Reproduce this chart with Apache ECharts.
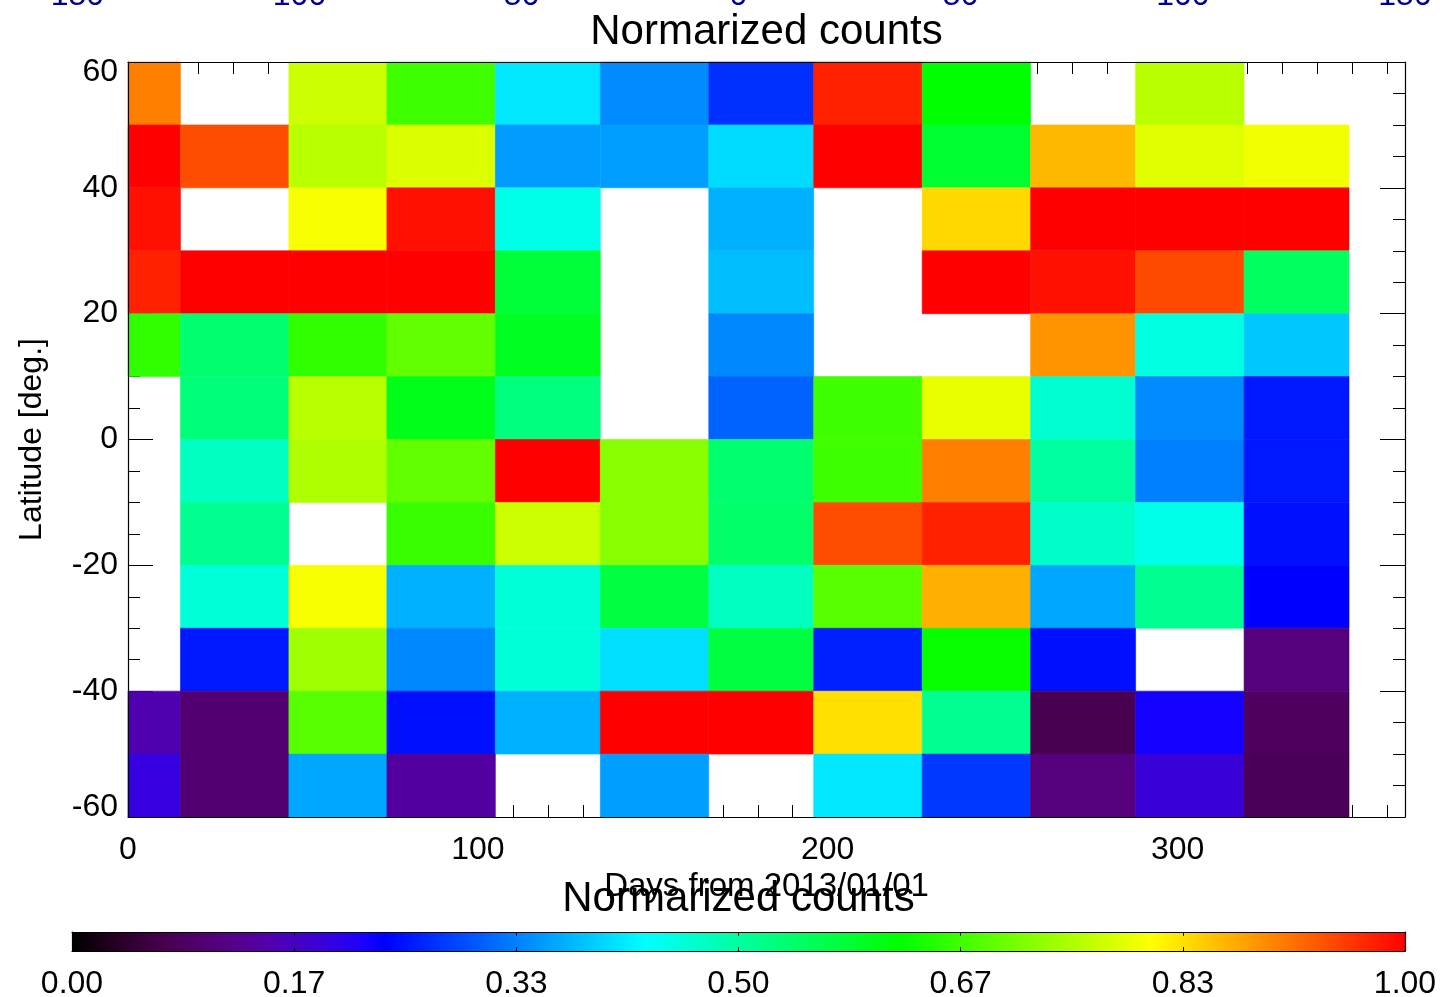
<!DOCTYPE html>
<html>
<head>
<meta charset="utf-8">
<script src="https://cdn.jsdelivr.net/npm/echarts@6/dist/echarts.min.js"></script>
<style>
html,body{margin:0;padding:0;background:#fff;}
#chart{width:1440px;height:997px;}
</style>
</head>
<body>
<div id="chart"></div>
<script>
// ---- data ----
// bin edges in days from 2013/01/01 (mid-month boundaries)
const dayEdges = [0, 15, 46, 74, 105, 135, 166, 196, 227, 258, 288, 319, 349];
// latitude band edges, top to bottom
const latEdges = [60, 50, 40, 30, 20, 10, 0, -10, -20, -30, -40, -50, -60];
// normalized counts per latitude band (null = no data)
const band_60_50  = [0.905, null, 0.772, 0.668, 0.412, 0.342, 0.272, 0.976, 0.620, null, 0.757, null];
const band_50_40  = [1.000, 0.943, 0.757, 0.784, 0.354, 0.357, 0.403, 1.000, 0.584, 0.863, 0.787, 0.799];
const band_40_30  = [0.988, null, 0.805, 0.988, 0.447, null, 0.370, null, 0.839, 1.000, 1.000, 1.000];
const band_30_20  = [0.976, 1.000, 1.000, 1.000, 0.578, null, 0.379, null, 1.000, 0.988, 0.946, 0.549];
const band_20_10  = [0.656, 0.537, 0.656, 0.692, 0.596, null, 0.339, null, null, 0.890, 0.453, 0.388];
const band_10_0   = [null, 0.531, 0.757, 0.602, 0.525, null, 0.311, 0.668, 0.793, 0.465, 0.342, 0.253];
const band_0_m10  = [null, 0.477, 0.751, 0.692, 1.000, 0.721, 0.537, 0.668, 0.905, 0.501, 0.333, 0.253];
const band_m10_m20 = [null, 0.513, null, 0.662, 0.772, 0.721, 0.542, 0.943, 0.976, 0.471, 0.447, 0.247];
const band_m20_m30 = [null, 0.459, 0.805, 0.370, 0.459, 0.572, 0.477, 0.686, 0.869, 0.363, 0.513, 0.235];
const band_m30_m40 = [null, 0.253, 0.739, 0.339, 0.459, 0.406, 0.572, 0.259, 0.626, 0.247, null, 0.109];
const band_m40_m50 = [0.152, 0.099, 0.686, 0.247, 0.370, 1.000, 1.000, 0.833, 0.513, 0.070, 0.223, 0.084];
const band_m50_m60 = [0.193, 0.099, 0.363, 0.139, null, 0.357, null, 0.412, 0.278, 0.109, 0.186, 0.077];
const bands = [band_60_50, band_50_40, band_40_30, band_30_20, band_20_10, band_10_0,
               band_0_m10, band_m10_m20, band_m20_m30, band_m30_m40, band_m40_m50, band_m50_m60];
// colorbar tick labels and the (clipped) upper axis labels
const cbTickLabels = ['0.00', '0.17', '0.33', '0.50', '0.67', '0.83', '1.00'];
const topTickLabels = ['-150', '-100', '-50', '0', '50', '100', '150'];

// ---- colormap (IDL rainbow-like) ----
const cmapStops = [[0,'#000000'],[0.035,'#280026'],[0.07,'#480050'],[0.12,'#580088'],[0.153,'#4f00b1'],
  [0.192,'#3700df'],[0.22,'#1900ff'],[0.235,'#0000ff'],[0.43,'#00ffff'],[0.62,'#00ff00'],[0.81,'#ffff00'],[1,'#ff0000']];
function hex2rgb(h){return [parseInt(h.substr(1,2),16),parseInt(h.substr(3,2),16),parseInt(h.substr(5,2),16)];}
function cmapAt(t){
  for (let i=1;i<cmapStops.length;i++){
    if (t<=cmapStops[i][0]){
      const [o0,c0]=cmapStops[i-1],[o1,c1]=cmapStops[i];
      const f=(t-o0)/(o1-o0), a=hex2rgb(c0), b=hex2rgb(c1);
      return 'rgb('+a.map((v,k)=>Math.round(v+(b[k]-v)*f)).join(',')+')';
    }
  }
  return cmapStops[cmapStops.length-1][1];
}
const cmapColors = [];
for (let i=0;i<=200;i++) cmapColors.push(cmapAt(i/200));

// ---- cells built from the arrays ----
const cells = [];
bands.forEach((row, r) => {
  row.forEach((v, c) => {
    if (v !== null) cells.push([dayEdges[c], dayEdges[c+1], latEdges[r+1], latEdges[r], v]);
  });
});

const FONT = '"Liberation Sans", Arial, Helvetica, sans-serif';
const chart = echarts.init(document.getElementById('chart'));

const noLine = {show:false, onZero:false};
function xTickAxis(pos, interval, len, labels){
  return {gridIndex:0, type:'value', position:pos, min:0, max:365, interval:interval,
    axisLine:noLine, splitLine:{show:false},
    axisTick:{show:true, inside:true, length:len, lineStyle:{color:'#000', width:1}},
    axisLabel:{show:labels, fontSize:32, color:'#000', fontFamily:FONT, margin:17, showMaxLabel:false, showMinLabel:true}};
}
function yTickAxis(pos, labels){
  return {gridIndex:0, type:'value', position:pos, min:-60, max:60, interval:20,
    axisLine:noLine, splitLine:{show:false},
    axisTick:{show:true, inside:true, length:25, lineStyle:{color:'#000', width:1}},
    minorTick:{show:true, splitNumber:4, length:12, lineStyle:{color:'#000', width:1}},
    axisLabel:{show:labels, fontSize:32, lineHeight:20, color:'#000', fontFamily:FONT, margin:10,
      verticalAlignMaxLabel:'top', verticalAlignMinLabel:'bottom'}};
}
const frameLine = {show:true, onZero:false, lineStyle:{color:'#000', width:1.2}};

const option = {
  animation:false,
  backgroundColor:'#fff',
  grid:[
    {left:128, right:35, top:62, height:755, containLabel:false, outerBoundsMode:'none'},
    {left:72, right:35, top:932, height:19, containLabel:false, outerBoundsMode:'none'}
  ],
  xAxis:[
    Object.assign(xTickAxis('bottom',100,25,true),
      {name:'Days from 2013/01/01', nameLocation:'middle', nameGap:50,
       nameTextStyle:{fontSize:33, color:'#000', fontFamily:FONT}}),
    xTickAxis('bottom',10,12,false),
    xTickAxis('top',100,25,false),
    xTickAxis('top',10,12,false),
    {gridIndex:0, type:'value', position:'bottom', min:0, max:365, z:10, axisLine:frameLine,
      axisTick:{show:false}, axisLabel:{show:false}, splitLine:{show:false}},
    {gridIndex:0, type:'value', position:'top', min:0, max:365, z:10, axisLine:frameLine,
      axisTick:{show:false}, axisLabel:{show:false}, splitLine:{show:false},
      name:'Normarized counts', nameLocation:'middle', nameGap:9,
      nameTextStyle:{fontSize:42, color:'#000', fontFamily:FONT}},
    // colorbar axes
    {gridIndex:1, type:'value', position:'bottom', min:0, max:1, interval:1/6, z:10, axisLine:frameLine,
      axisTick:{show:true, inside:true, length:4, lineStyle:{color:'#000'}}, splitLine:{show:false},
      axisLabel:{fontSize:32, color:'#000', fontFamily:FONT, margin:17,
        formatter:v=>cbTickLabels[Math.round(v*6)]}},
    {gridIndex:1, type:'value', position:'top', min:0, max:1, interval:1/6, z:10, axisLine:frameLine,
      axisTick:{show:true, inside:true, length:4, lineStyle:{color:'#000'}}, splitLine:{show:false},
      axisLabel:{show:false},
      name:'Normarized counts', nameLocation:'middle', nameGap:12,
      nameTextStyle:{fontSize:42, color:'#000', fontFamily:FONT}},
    {gridIndex:1, type:'value', position:'top', offset:912, min:0, max:1, interval:1/6,
      axisLine:noLine, axisTick:{show:false}, splitLine:{show:false},
      axisLabel:{fontSize:32, color:'#00008c', fontFamily:FONT, margin:8,
        formatter:v=>topTickLabels[Math.round(v*6)]}}
  ],
  yAxis:[
    Object.assign(yTickAxis('left',true),
      {name:'Latitude [deg.]', nameLocation:'middle', nameGap:80,
       nameTextStyle:{fontSize:32, color:'#000', fontFamily:FONT}}),
    yTickAxis('right',false),
    {gridIndex:0, type:'value', position:'left', min:-60, max:60, z:10, axisLine:frameLine,
      axisTick:{show:false}, axisLabel:{show:false}, splitLine:{show:false}},
    {gridIndex:0, type:'value', position:'right', min:-60, max:60, z:10, axisLine:frameLine,
      axisTick:{show:false}, axisLabel:{show:false}, splitLine:{show:false}},
    {gridIndex:1, type:'value', position:'left', min:0, max:1, z:10, axisLine:frameLine,
      axisTick:{show:false}, axisLabel:{show:false}, splitLine:{show:false}},
    {gridIndex:1, type:'value', position:'right', min:0, max:1, z:10, axisLine:frameLine,
      axisTick:{show:false}, axisLabel:{show:false}, splitLine:{show:false}}
  ],
  visualMap:{show:false, type:'continuous', min:0, max:1, dimension:4, seriesIndex:0,
    inRange:{color:cmapColors}},
  series:[
    {type:'custom', xAxisIndex:0, yAxisIndex:0, z:2, encode:{x:[0,1], y:[2,3]},
      renderItem:function(params, api){
        const a = api.coord([api.value(0), api.value(3)]);
        const b = api.coord([api.value(1), api.value(2)]);
        const col = api.visual('color');
        return {type:'rect', shape:{x:a[0], y:a[1], width:b[0]-a[0], height:b[1]-a[1]},
          style:{fill:col, stroke:col, lineWidth:0.6}};
      },
      data:cells},
    {type:'custom', xAxisIndex:6, yAxisIndex:4, z:2, encode:{x:[0,2], y:[1,3]},
      renderItem:function(params, api){
        const a = api.coord([api.value(0), api.value(3)]);
        const b = api.coord([api.value(2), api.value(1)]);
        return {type:'rect', shape:{x:a[0], y:a[1], width:b[0]-a[0], height:b[1]-a[1]},
          style:{fill:new echarts.graphic.LinearGradient(0,0,1,0,
            cmapStops.map(s=>({offset:s[0], color:s[1]})))}};
      },
      data:[[0,0,1,1]]}
  ]
};
chart.setOption(option);
</script>
</body>
</html>
